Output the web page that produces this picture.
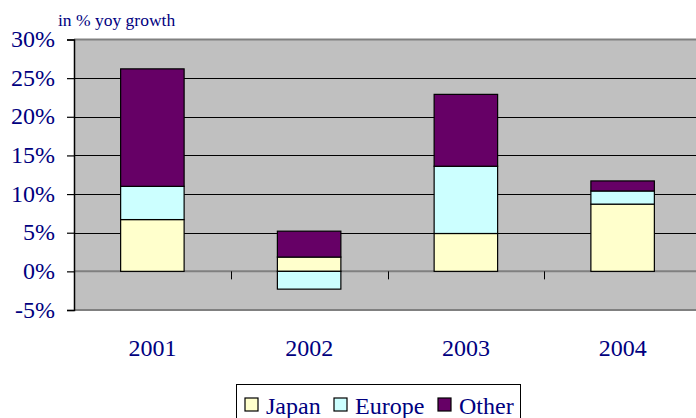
<!DOCTYPE html>
<html>
<head>
<meta charset="utf-8">
<script src="https://cdn.jsdelivr.net/npm/d3@7"></script>
<style>
  body { margin: 0; background: #ffffff; }
  svg { display: block; }
  svg text { font-family: "Liberation Serif", Tinos, "Times New Roman", Times, "DejaVu Serif", serif; }
</style>
</head>
<body>
<div id="visualization"></div>
<script>
// data
const years = ["2001", "2002", "2003", "2004"];
const japan = [6.7, 1.85, 4.9, 8.7];
const europe = [4.3, -2.3, 8.7, 1.7];
const other = [15.2, 3.35, 9.3, 1.3];
const seriesNames = ["Japan", "Europe", "Other"];
const yTicks = [-5, 0, 5, 10, 15, 20, 25, 30];

const colors = { Japan: "#ffffcc", Europe: "#ccffff", Other: "#660066" };
const textColor = "#000080";

const viewBox = { width: 696, height: 418 };
const plot = { left: 74, right: 701, top: 39.5, bottom: 310 };

const svg = d3
  .select("#visualization")
  .append("svg")
  .attr("width", viewBox.width)
  .attr("height", viewBox.height);

// table for the stack layout
const table = years.map((y, i) => ({
  year: y,
  Japan: japan[i],
  Europe: europe[i],
  Other: other[i],
}));

const stacked = d3
  .stack()
  .keys(seriesNames)
  .offset(d3.stackOffsetDiverging)(table);

// scales
const xScale = d3
  .scaleBand()
  .domain(years)
  .range([plot.left, plot.right])
  .padding(0);

const yScale = d3
  .scaleLinear()
  .domain([-5, 30])
  .range([plot.bottom, plot.top]);

const barWidth = xScale.bandwidth() * 0.405;

// plot background
svg
  .append("rect")
  .attr("x", plot.left)
  .attr("y", plot.top)
  .attr("width", plot.right - plot.left)
  .attr("height", plot.bottom - plot.top)
  .attr("fill", "#c0c0c0");

// gridlines
svg
  .append("g")
  .selectAll("line")
  .data(yTicks.filter((d) => d !== 0 && d !== -5 && d !== 30))
  .enter()
  .append("line")
  .attr("x1", plot.left)
  .attr("x2", plot.right)
  .attr("y1", (d) => Math.round(yScale(d)) + 0.5)
  .attr("y2", (d) => Math.round(yScale(d)) + 0.5)
  .attr("stroke", "#000000")
  .attr("stroke-width", 1.2);

// plot border top and bottom
svg
  .append("g")
  .selectAll("line")
  .data([30, -5])
  .enter()
  .append("line")
  .attr("x1", plot.left)
  .attr("x2", plot.right)
  .attr("y1", (d) => yScale(d))
  .attr("y2", (d) => yScale(d))
  .attr("stroke", "#808080")
  .attr("stroke-width", 2);

// zero line
svg
  .append("line")
  .attr("x1", plot.left)
  .attr("x2", plot.right)
  .attr("y1", yScale(0))
  .attr("y2", yScale(0))
  .attr("stroke", "#808080")
  .attr("stroke-width", 2);

// bars
svg
  .append("g")
  .attr("id", "bars")
  .selectAll("g")
  .data(stacked)
  .enter()
  .append("g")
  .attr("fill", (d) => colors[d.key])
  .selectAll("rect")
  .data((d) => d)
  .enter()
  .append("rect")
  .attr("x", (d) => xScale(d.data.year) + (xScale.bandwidth() - barWidth) / 2)
  .attr("width", barWidth)
  .attr("y", (d) => yScale(Math.max(d[0], d[1])))
  .attr("height", (d) => Math.abs(yScale(d[0]) - yScale(d[1])))
  .attr("stroke", "#000000")
  .attr("stroke-width", 1.2);

// category ticks at the zero line
svg
  .append("g")
  .selectAll("line")
  .data(years.slice(1))
  .enter()
  .append("line")
  .attr("x1", (d) => Math.round(xScale(d)) + 0.5)
  .attr("x2", (d) => Math.round(xScale(d)) + 0.5)
  .attr("y1", yScale(0))
  .attr("y2", yScale(0) + 8)
  .attr("stroke", "#000000")
  .attr("stroke-width", 1);

// y-axis
const yAxisGenerator = d3
  .axisLeft(yScale)
  .tickValues(yTicks)
  .tickSize(7)
  .tickPadding(12)
  .tickFormat((d) => d + "%");

const yAxis = svg
  .append("g")
  .attr("id", "y-axis")
  .attr("transform", "translate(" + plot.left + ",0)")
  .call(yAxisGenerator);
yAxis.attr("font-family", null).attr("font-size", null);
yAxis.select(".domain").attr("stroke", "#000000").attr("stroke-width", 1.5);
yAxis.selectAll(".tick line").attr("stroke", "#000000").attr("stroke-width", 1.2);
yAxis
  .selectAll(".tick text")
  .attr("font-size", 24)
  .attr("fill", textColor)
  .attr("dy", "0.3em");

// year labels
svg
  .append("g")
  .selectAll("text")
  .data(years)
  .enter()
  .append("text")
  .text((d) => d)
  .attr("x", (d) => xScale(d) + xScale.bandwidth() / 2)
  .attr("y", 356)
  .attr("text-anchor", "middle")
  .attr("font-size", 24)
  .attr("fill", textColor);

// unit label
svg
  .append("text")
  .text("in % yoy growth")
  .attr("x", 58)
  .attr("y", 26)
  .attr("font-size", 17.5)
  .attr("fill", textColor);

// legend
const legend = svg.append("g").attr("id", "legend");
legend
  .append("rect")
  .attr("x", 236.5)
  .attr("y", 384.5)
  .attr("width", 284)
  .attr("height", 50)
  .attr("fill", "#ffffff")
  .attr("stroke", "#000000")
  .attr("stroke-width", 1);

const legendX = [245, 334, 438];
const items = legend
  .selectAll(".item")
  .data(seriesNames)
  .enter()
  .append("g")
  .attr("class", "item")
  .attr("transform", (d, i) => "translate(" + legendX[i] + ",398)");

items
  .append("rect")
  .attr("width", 13)
  .attr("height", 13)
  .attr("fill", (d) => colors[d])
  .attr("stroke", "#000000")
  .attr("stroke-width", 1.2);

items
  .append("text")
  .text((d) => d)
  .attr("x", 21)
  .attr("y", 15.5)
  .attr("font-size", 24)
  .attr("fill", textColor);
</script>
</body>
</html>
